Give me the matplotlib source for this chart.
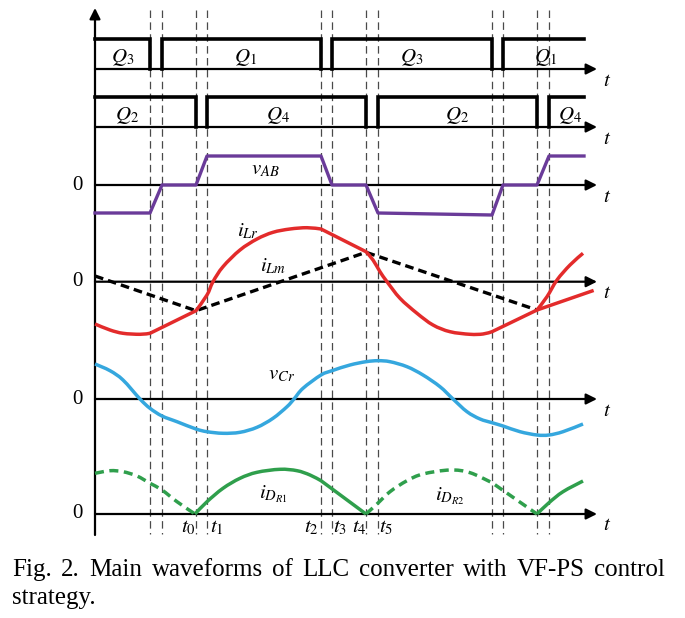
import numpy as np
import matplotlib
matplotlib.use("Agg")
import matplotlib.pyplot as plt
from matplotlib.path import Path
from matplotlib.patches import PathPatch

plt.rcParams['mathtext.fontset'] = 'stix'
plt.rcParams['font.family'] = ['Liberation Serif', 'DejaVu Serif']

# ---------------- data (time in drawing units, amplitudes relative to each trace's zero) -------------
T_SW = [150, 162, 196, 207, 321, 332, 366, 378, 492, 503, 537, 549]   # switching instants (dashed lines)
T_START, T_END = 95, 584

# gate pulses (high intervals)
Q13_on = [(95, 150), (162, 321), (332, 492), (503, 584)]
Q13_lbl = ['$Q_3$', '$Q_1$', '$Q_3$', '$Q_1$']
Q24_on = [(95, 196), (207, 366), (378, 537), (549, 584)]
Q24_lbl = ['$Q_2$', '$Q_4$', '$Q_2$', '$Q_4$']
Q_amp = 30

vab_t = [95, 150, 162, 196, 207, 321, 332, 366, 378, 492, 503, 537, 549, 584]
vab_v = [-28, -28, 0, 0, 29, 29, 0, 0, -28, -30, 0, 0, 29, 29]

ilr_t = [95, 110, 123, 140, 150, 196, 207, 213, 223, 240, 257, 273, 290, 307, 321,
         366, 373, 380, 387, 400, 417, 433, 450, 470, 483, 492, 537, 547, 557, 570, 583]
ilr_v = [-42.3, -48.3, -51.6, -52.6, -51.6, -29, -13.3, 0, 15, 31.7, 42.7, 49.4, 52.7, 54, 52.7,
         30, 21.7, 10, 0, -16.6, -31.6, -43.3, -50, -52.6, -52.3, -50, -28.3, -15, 1.7, 16.7, 28.4]
ilr_corners = [150, 196, 321, 366, 492, 537]
ilr_branch_t = [537, 592]
ilr_branch_v = [-28.3, -9.3]

ilm_t = [95, 196, 366, 537]
ilm_v = [5.7, -29, 29.4, -28.3]

vcr_t = [95, 110, 123, 140, 150, 162, 177, 196, 207, 223, 240, 257, 273, 287, 294, 303, 321, 332,
         350, 366, 378, 390, 407, 423, 440, 453, 467, 480, 492, 503, 520, 537, 549, 563, 583]
vcr_v = [35, 28.3, 19, 0, -9.3, -17, -22.7, -30, -32.7, -34.3, -33.3, -28.3, -19.3, -7.7, 0, 10.7,
         24, 28.3, 34, 37.3, 38.3, 37.3, 32.3, 24, 12.3, 0, -12.7, -20, -23.7, -27, -32.7, -36, -36,
         -32.7, -25]

idr_seg = [  # (times, values, dashed?, corner times)
    ([95, 110, 123, 137, 150, 162, 177, 195], [40.7, 43.3, 42.3, 38, 30.7, 24, 12.3, 0], True, []),
    ([195, 207, 223, 240, 257, 280, 297, 310, 321, 366], [0, 12.3, 25.7, 35.7, 41.7, 44.7, 43.3, 39, 33.3, 0], False, [321]),
    ([366, 377, 390, 407, 423, 450, 470, 492, 537], [0, 10, 22.3, 33.3, 40, 44, 41.3, 31.3, 0], True, [492]),
    ([537, 549, 563, 583], [0, 11.3, 22.3, 33], False, []),
]

t_labels = ['$t_0$', '$t_1$', '$t_2$', '$t_3$', '$t_4$', '$t_5$']
t_label_x = [188, 217, 311, 340, 359, 386]

caption1 = "Fig. 2. Main waveforms of LLC converter with VF-PS control"
caption2 = "strategy."

# ---------------- layout ----------------
Y_Q13, Y_Q24, Y_VAB, Y_ILR, Y_VCR, Y_IDR = 69, 127, 185, 281.7, 399, 514
AX_X0, AX_X1 = 95, 597

fig = plt.figure(figsize=(6.85, 6.18), dpi=100)
ax = fig.add_axes([0, 0, 1, 1])
ax.set_xlim(0, 685)
ax.set_ylim(618, 0)
ax.axis('off')


def smooth_path(ts, ys, corners=()):
    """Bezier path through the read knots (Catmull-Rom tangents), straight where only two knots."""
    ts = list(ts); ys = list(ys)
    pieces, cur = [], [0]
    for i in range(1, len(ts)):
        cur.append(i)
        if ts[i] in corners and i < len(ts) - 1:
            pieces.append(cur); cur = [i]
    pieces.append(cur)
    verts, codes = [(ts[0], ys[0])], [Path.MOVETO]
    for p in pieces:
        P = np.array([(ts[i], ys[i]) for i in p], float)
        n = len(P)
        if n == 2:
            verts.append(tuple(P[1])); codes.append(Path.LINETO)
            continue
        for k in range(n - 1):
            p0 = P[k - 1] if k > 0 else P[k]
            p3 = P[k + 2] if k + 2 < n else P[k + 1]
            c1 = P[k] + (P[k + 1] - p0) / 6.0
            c2 = P[k + 1] - (p3 - P[k]) / 6.0
            verts += [tuple(c1), tuple(c2), tuple(P[k + 1])]
            codes += [Path.CURVE4] * 3
    return Path(verts, codes)


def draw_curve(ts, vals, base, color, corners=(), dashed=False, z=5):
    ys = base - np.asarray(vals, float)
    ls = (0, (2.6, 1.6)) if dashed else '-'
    ax.add_patch(PathPatch(smooth_path(ts, ys, corners), fill=False, edgecolor=color,
                           lw=2.5, linestyle=ls, capstyle='butt', joinstyle='round', zorder=z))


# dashed verticals
for t in T_SW:
    ax.plot([t, t], [10, 534], color='#4a4a4a', lw=0.9, dashes=(6, 3.5), zorder=1)

# vertical axis with arrow
ax.annotate('', xy=(AX_X0, 8), xytext=(AX_X0, 535),
            arrowprops=dict(arrowstyle='-|>', lw=1.6, color='k', mutation_scale=16, shrinkA=0, shrinkB=0))

# horizontal axes
for y in [Y_Q13, Y_Q24, Y_VAB, Y_ILR, Y_VCR, Y_IDR]:
    ax.annotate('', xy=(AX_X1, y), xytext=(AX_X0, y),
                arrowprops=dict(arrowstyle='-|>', lw=1.6, color='k', mutation_scale=16, shrinkA=0, shrinkB=0),
                zorder=2)
    ax.text(603, y + 12, '$t$', fontsize=15, ha='left', va='center')

for y in [Y_VAB, Y_ILR, Y_VCR, Y_IDR]:
    ax.text(77, y, '0', fontsize=15, ha='center', va='center')

# gate pulses
def pulses(on, base):
    for (a, b) in on:
        xs, ys = [], []
        if a > T_START:
            xs += [a]; ys += [base]
        xs += [a, b]; ys += [base - Q_amp, base - Q_amp]
        if b < T_END:
            xs += [b]; ys += [base]
        ax.plot(xs, ys, color='k', lw=2.6, solid_joinstyle='miter', zorder=3)

pulses(Q13_on, Y_Q13)
pulses(Q24_on, Y_Q24)
for (x, lab) in zip([123, 245, 412, 545], Q13_lbl):
    ax.text(x, Y_Q13 - 12, lab, fontsize=15, ha='center', va='center')
for (x, lab) in zip([127, 278, 457, 570], Q24_lbl):
    ax.text(x, Y_Q24 - 12, lab, fontsize=15, ha='center', va='center')

# vAB
ax.plot(vab_t, Y_VAB - np.array(vab_v), color='#6a3b99', lw=2.4, zorder=4)
ax.text(265, 170, '$v_{AB}$', fontsize=15, ha='center', va='center')

# iLm and iLr
ax.plot(ilm_t, Y_ILR - np.array(ilm_v), color='k', lw=2.4, dashes=(2.6, 1.5), zorder=4)
draw_curve(ilr_t, ilr_v, Y_ILR, '#e32b2b', corners=ilr_corners)
ax.plot(ilr_branch_t, Y_ILR - np.array(ilr_branch_v), color='#e32b2b', lw=2.5, zorder=5)
ax.text(248, 231, '$i_{Lr}$', fontsize=15, ha='center', va='center')
ax.text(273, 266, '$i_{Lm}$', fontsize=15, ha='center', va='center')

# vCr
draw_curve(vcr_t, vcr_v, Y_VCR, '#35a7de')
ax.text(282, 375, '$v_{Cr}$', fontsize=15, ha='center', va='center')

# iDR
for ts, vs, dashed, cor in idr_seg:
    draw_curve(ts, vs, Y_IDR, '#2f9f4c', corners=cor, dashed=dashed)
ax.text(273, 494, '$i_{D_{R1}}$', fontsize=15, ha='center', va='center')
ax.text(450, 496, '$i_{D_{R2}}$', fontsize=15, ha='center', va='center')

# time labels
for x, lab in zip(t_label_x, t_labels):
    ax.text(x, 528, lab, fontsize=15, ha='center', va='center')

# caption (justified first line)
fig.canvas.draw()
renderer = fig.canvas.get_renderer()
words = caption1.split(' ')
objs = [ax.text(0, 576, w, fontsize=18, ha='left', va='baseline') for w in words]
widths = [o.get_window_extent(renderer).width for o in objs]
x0, x1 = 12, 665
gap = (x1 - x0 - sum(widths)) / (len(words) - 1)
x = x0
for o, w in zip(objs, widths):
    o.set_x(x)
    x += w + gap
ax.text(x0, 604, caption2, fontsize=18, ha='left', va='baseline')

fig.savefig('out.png', dpi=100)
